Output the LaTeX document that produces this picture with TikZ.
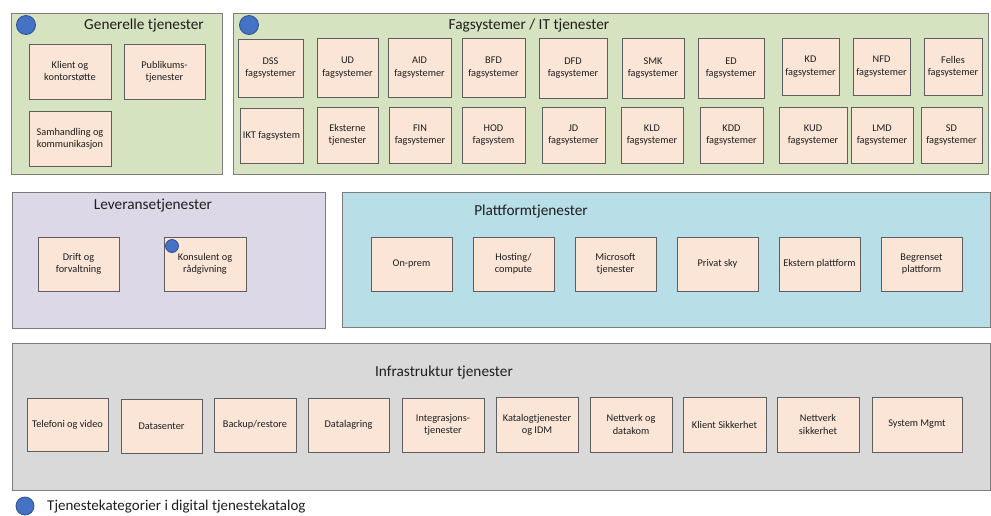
\documentclass[tikz,border=0pt]{standalone}
\usepackage{fontspec}
\setmainfont{Carlito}
\definecolor{grpgreen}{HTML}{D6E3C0}
\definecolor{grplav}{HTML}{DDD8E7}
\definecolor{grpblue}{HTML}{B8DEE8}
\definecolor{grpgray}{HTML}{D9D9D9}
\definecolor{svcfill}{HTML}{FBE5D6}
\definecolor{grpedge}{HTML}{7C7C7C}
\definecolor{svcedge}{HTML}{5E5E5E}
\definecolor{dotfill}{HTML}{4472C4}
\definecolor{dotedge}{HTML}{2F4F8F}
\definecolor{ink}{HTML}{1E1E1E}
\tikzset{
  grp/.style={draw=grpedge, line width=0.9pt, inner sep=0pt, outer sep=0pt},
  svc/.style={draw=svcedge, fill=svcfill, line width=0.9pt, inner sep=1pt,
    outer sep=0pt, align=center, text=ink, font=\fontsize{10.3}{12.2}\selectfont},
  grptitle/.style={text=ink, font=\fontsize{15.3}{18}\selectfont, inner sep=0pt},
  dot/.style={circle, draw=dotedge, fill=dotfill, line width=0.8pt, inner sep=0pt}
}
% rectangle node from corner coordinates: name, x1, y1, x2, y2, style, text
\newcommand\cornerbox[7]{%
  \pgfmathsetmacro\bw{#4-#2}\pgfmathsetmacro\bh{#5-#3}%
  \node[#6, minimum width=\bw pt, minimum height=\bh pt] (#1)
    at ({(#2+#4)/2},{(#3+#5)/2}) {#7};}
\newcommand\svcbox[6]{\cornerbox{#1}{#2}{#3}{#4}{#5}{svc}{#6}}
\begin{document}
\begin{tikzpicture}[x=1pt, y=-1pt]
\useasboundingbox (0,0) rectangle (991,515);

% ---- group panels ----
\cornerbox{gen}{11}{13}{222}{174}{grp, fill=grpgreen}{}
\cornerbox{fag}{233}{13}{988}{174}{grp, fill=grpgreen}{}
\cornerbox{lev}{12}{192}{325}{328}{grp, fill=grplav}{}
\cornerbox{plat}{342}{192}{990}{327}{grp, fill=grpblue}{}
\cornerbox{infra}{12}{343}{990}{490}{grp, fill=grpgray}{}

% ---- panel titles ----
\node[grptitle] (genT) at (144,25) {Generelle tjenester};
\node[grptitle] (fagT) at (529,25) {Fagsystemer / IT tjenester};
\node[grptitle] (levT) at (153,206) {Leveransetjenester};
\node[grptitle] (platT) at (531,211) {Plattformtjenester};
\node[grptitle] (infraT) at (444,372) {Infrastruktur tjenester};

% ---- Generelle tjenester ----
\svcbox{klient}{29}{44}{111}{99}{Klient og\\kontorstøtte}
\svcbox{publ}{124}{44}{205}{99}{Publikums-\\tjenester}
\svcbox{samh}{29}{111}{111}{166}{Samhandling og\\kommunikasjon}

% ---- Fagsystemer / IT tjenester, first row ----
\svcbox{dss}{238}{39}{303}{97}{DSS\\fagsystemer}
\svcbox{ud}{317}{38}{378}{97}{UD\\fagsystemer}
\svcbox{aid}{388}{38}{451}{97}{AID\\fagsystemer}
\svcbox{bfd}{462}{38}{525}{97}{BFD\\fagsystemer}
\svcbox{dfd}{539}{38}{607}{98}{DFD\\fagsystemer}
\svcbox{smk}{622}{38}{684}{98}{SMK\\fagsystemer}
\svcbox{ed}{698}{38}{764}{98}{ED\\fagsystemer}
\svcbox{kd}{782}{38}{839}{95}{KD\\fagsystemer}
\svcbox{nfd}{853}{38}{910}{95}{NFD\\fagsystemer}
\svcbox{felles}{924}{38}{982}{95}{Felles\\fagsystemer}

% ---- Fagsystemer / IT tjenester, second row ----
\svcbox{ikt}{240}{108}{303}{163}{IKT fagsystem}
\svcbox{ekst}{317}{107}{378}{163}{Eksterne\\tjenester}
\svcbox{fin}{389}{107}{451}{163}{FIN\\fagsystemer}
\svcbox{hod}{462}{107}{525}{163}{HOD\\fagsystem}
\svcbox{jd}{542}{107}{605}{163}{JD\\fagsystemer}
\svcbox{kld}{621}{107}{683}{163}{KLD\\fagsystemer}
\svcbox{kdd}{700}{107}{763}{163}{KDD\\fagsystemer}
\svcbox{kud}{779}{107}{847}{163}{KUD\\fagsystemer}
\svcbox{lmd}{851}{107}{913}{163}{LMD\\fagsystemer}
\svcbox{sd}{921}{107}{982}{163}{SD\\fagsystemer}

% ---- Leveransetjenester ----
\svcbox{drift}{38}{237}{119}{291}{Drift og\\forvaltning}
\svcbox{kons}{164}{237}{246}{291}{Konsulent og\\rådgivning}

% ---- Plattformtjenester ----
\svcbox{onprem}{371}{237}{452}{291}{On-prem}
\svcbox{host}{473}{237}{554}{291}{Hosting/\\compute}
\svcbox{ms}{575}{237}{656}{291}{Microsoft\\tjenester}
\svcbox{privat}{677}{237}{758}{291}{Privat sky}
\svcbox{ekstplat}{779}{237}{860}{291}{Ekstern plattform}
\svcbox{begr}{881}{237}{962}{291}{Begrenset\\plattform}

% ---- Infrastruktur tjenester ----
\svcbox{tlf}{27}{398}{108}{451}{Telefoni og video}
\svcbox{dsenter}{121}{399}{202}{453}{Datasenter}
\svcbox{backup}{214}{398}{296}{452}{Backup/restore}
\svcbox{dlag}{308}{398}{389}{452}{Datalagring}
\svcbox{integ}{402}{398}{484}{452}{Integrasjons-\\tjenester}
\svcbox{katalog}{496}{397}{578}{452}{Katalogtjenester\\og IDM}
\svcbox{nettdk}{590}{397}{672}{452}{Nettverk og\\datakom}
\svcbox{klsikk}{683}{397}{766}{452}{Klient Sikkerhet}
\svcbox{nettsikk}{777}{397}{859}{452}{Nettverk\\sikkerhet}
\svcbox{sysm}{872}{397}{962}{452}{System Mgmt}

% ---- catalogue markers ----
\node[dot, minimum size=19pt] (genDot) at (26,25) {};
\node[dot, minimum size=19pt] (fagDot) at (249,25) {};
\node[dot, minimum size=13pt] (konsDot) at (172,246) {};

% ---- legend ----
\node[dot, minimum size=18pt] (legDot) at (25,506) {};
\node[anchor=west, text=ink, font=\fontsize{15}{18}\selectfont, inner sep=0pt]
  (legT) at (47,507) {Tjenestekategorier i digital tjenestekatalog};
\end{tikzpicture}
\end{document}
